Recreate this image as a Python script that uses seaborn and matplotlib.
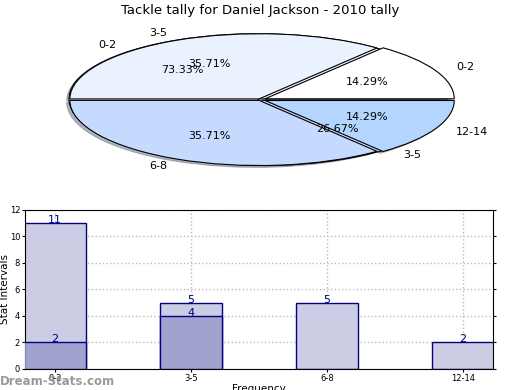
import matplotlib
matplotlib.use("Agg")
import matplotlib.pyplot as plt
import seaborn as sns
import pandas as pd
import numpy as np

# data
title = "Tackle tally for Daniel Jackson - 2010 tally"
pie_a_labels = ["0-2", "3-5"]
pie_a_values = [11, 4]
pie_b_labels = ["0-2", "3-5", "6-8", "12-14"]
pie_b_values = [2, 5, 5, 2]
categories = ["0-2", "3-5", "6-8", "12-14"]
series_a = [11, 4, 0, 0]
series_b = [2, 5, 5, 2]

sns.set_style("white")
plt.rcParams['font.family'] = ['DejaVu Sans']
plt.rcParams['text.color'] = 'black'
plt.rcParams['axes.labelcolor'] = 'black'
plt.rcParams['xtick.color'] = 'black'
plt.rcParams['ytick.color'] = 'black'

fig = plt.figure(figsize=(5.2, 3.9), dpi=100)
fig.text(0.5, 0.973, title, ha="center", va="center", fontsize=9.5)

# pie chart (elliptical, two pies stacked)
pax = fig.add_axes([0.129, 0.574, 0.742, 0.341])
pie_colors_b = ["#ffffff", "#ebf2ff", "#c6d9ff", "#b3d5ff"]
pie_colors_a = ["#ebf2ff", "#c6d9ff"]
pax.pie(pie_a_values, labels=pie_a_labels, colors=pie_colors_a,
        autopct="%.2f%%", pctdistance=0.6, labeldistance=1.12,
        explode=[0.015, 0.015], startangle=0,
        wedgeprops=dict(edgecolor="black", linewidth=0.8),
        textprops=dict(fontsize=8))
pax.pie(pie_b_values, labels=pie_b_labels, colors=pie_colors_b,
        autopct="%.2f%%", pctdistance=0.6, labeldistance=1.12,
        explode=[0.03, 0.012, 0.012, 0.03], startangle=0,
        shadow=dict(ox=-0.012, oy=-0.02, shade=0.5),
        wedgeprops=dict(edgecolor="black", linewidth=0.8),
        textprops=dict(fontsize=8))
pax.set_aspect("auto")
pax.set_xlim(-1.02, 1.02)
pax.set_ylim(-1.02, 1.02)
pax.axis("off")

# bar chart
bax = fig.add_axes([0.048, 0.054, 0.9, 0.408])
back = np.maximum(series_a, series_b)
front = np.minimum(series_a, series_b).astype(float)
front[front == 0] = np.nan
df = pd.DataFrame({"cat": categories, "back": back, "front": front})

sns.barplot(data=df, x="cat", y="back", color="#ccccE4", saturation=1,
            width=0.45, edgecolor="#000080", linewidth=1, ax=bax, zorder=2)
sns.barplot(data=df, x="cat", y="front", color="#a2a2cf", saturation=1,
            width=0.45, edgecolor="#000080", linewidth=1, ax=bax, zorder=3)

for i, v in enumerate(back):
    bax.text(i, v - 0.15, str(v), ha="center", va="bottom", color="#000080",
             fontsize=8, zorder=5)
for i, v in enumerate(front):
    if not np.isnan(v):
        bax.text(i, v - 0.15, str(int(v)), ha="center", va="bottom",
                 color="#000080", fontsize=8, zorder=5)

bax.set_xlim(-0.22, 3.22)
bax.set_ylim(0, 12)
bax.set_yticks(range(0, 13, 2))
bax.grid(True, linestyle=":", color="#bbbbbb", linewidth=1, zorder=0)
bax.set_axisbelow(True)
bax.tick_params(labelsize=6, length=2, direction="out", right=True,
                left=True, bottom=True, pad=1.5)
for s in bax.spines.values():
    s.set_color("black")
    s.set_linewidth(0.8)
bax.set_ylabel("Stat Intervals", fontsize=7.5, labelpad=0)
bax.set_xlabel("Frequency", fontsize=7.5, labelpad=1)

fig.text(0.0, 0.022, "Dream-Stats.com", ha="left", va="center",
         fontsize=8.5, color="#999999", fontweight="bold")

fig.savefig("out.png", dpi=100)
